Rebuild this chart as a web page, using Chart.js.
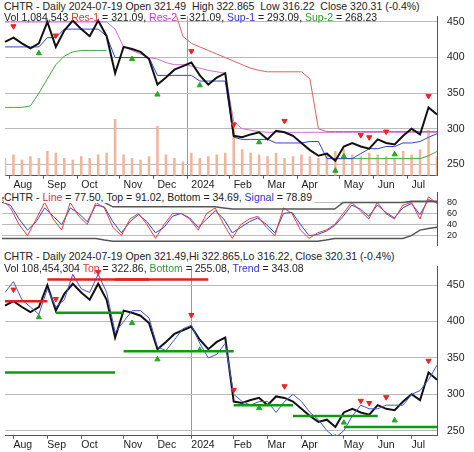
<!DOCTYPE html>
<html><head><meta charset="utf-8">
<script src="https://cdn.jsdelivr.net/npm/chart.js@4"></script>
<style>
body{margin:0;background:#fff;font-family:"Liberation Sans",Arial,sans-serif;}
canvas{position:absolute;left:0}
.h{position:absolute;left:4px;font-size:10.5px;color:#222;background:#fff;white-space:nowrap;line-height:12px;padding-right:2px}
</style></head><body>
<canvas id="c1" width="474" height="192" style="top:0"></canvas>
<canvas id="c2" width="474" height="84" style="top:177px"></canvas>
<canvas id="c3" width="474" height="202" style="top:250px"></canvas>
<div class="h" style="top:0">CHTR - Daily 2024-07-19 Open 321.49&nbsp; High 322.865&nbsp; Low 316.22&nbsp; Close 320.31 (-0.4%)</div>
<div class="h" style="top:11px;background:none">Vol 1,084,543 <span style="color:#d33">Res-1</span> = 321.09, <span style="color:#c3c">Res-2</span> = 321.09, <span style="color:#33c">Sup-1</span> = 293.09, <span style="color:#393">Sup-2</span> = 268.23</div>
<div class="h" style="top:191px">CHTR - <span style="color:#d33">Line</span> = 77.50, Top = 91.02, Bottom = 34.69, <span style="color:#33c">Signal</span> = 78.89</div>
<div class="h" style="top:250px">CHTR - Daily 2024-07-19 Open 321.49,Hi 322.865,Lo 316.22, Close 320.31 (-0.4%)</div>
<div class="h" style="top:262px;background:none">Vol 108,454,304 <span style="color:#d33">Top</span> = 322.86, <span style="color:#393">Bottom</span> = 255.08, <span style="color:#33c">Trend</span> = 343.08</div>
<script>
// weekly dates, Jul 31 2023 .. Jul 19 2024
const dates = [];
for (let i = 0; i < 51; i++) { const d = new Date(Date.UTC(2023, 6, 31 + 7 * i)); dates.push(d.toISOString().slice(0, 10)); }
dates.push('2024-07-19');

const closes = [422,428,420,413,420,450,415,438,452,440,430,452,430,378,415,412,408,398,362,372,383,388,393,375,362,372,378,290,288,292,295,285,297,295,290,280,270,262,265,255,275,280,275,272,285,280,278,290,300,292,330,320];
const volume = [1.0,1.2,0.9,1.1,1.0,1.4,1.3,1.0,0.9,1.1,1.0,1.2,1.3,3.2,1.2,1.0,0.9,1.1,2.8,1.2,1.0,0.8,1.3,1.0,1.1,1.2,1.3,3.0,1.5,1.3,1.2,1.1,1.3,1.0,1.1,1.2,1.1,1.0,1.3,1.4,1.5,1.2,1.1,1.3,1.2,1.1,1.0,1.4,1.2,1.5,2.6,1.1];
const res1 = [450,450,450,450,450,450,450,450,450,450,450,450,450,440,415,410,405,400,398,393,390,390,388,385,382,380,378,310,300,298,296,295,295,295,295,295,295,295,295,295,295,295,295,295,295,295,295,295,295,295,295,295];
const res2 = [468,468,468,468,468,468,468,468,468,468,468,468,468,468,468,468,468,468,468,468,468,430,420,415,410,405,400,395,390,385,382,380,380,380,380,380,370,300,296,296,296,296,296,296,296,296,296,296,296,296,296,296];
const sup1 = [415,415,415,415,415,428,428,440,440,440,440,440,430,400,400,400,400,400,375,375,375,375,375,367,367,367,367,288,285,285,285,285,280,280,280,280,282,282,258,258,258,258,265,272,272,275,275,280,280,282,288,293];
const sup2 = [330,330,330,332,350,370,390,402,408,410,410,410,410,null,null,null,null,null,null,null,null,null,null,null,null,null,null,null,null,null,null,null,null,null,null,null,null,null,null,258,258,258,258,258,258,258,258,258,258,258,262,268];
const trend = [440,455,430,420,410,445,420,430,465,445,440,465,440,385,400,415,415,405,365,360,375,390,395,370,350,355,370,300,290,285,290,290,275,290,300,290,275,265,250,240,250,270,285,280,280,285,285,285,300,305,320,340];
const stLine = [85,70,40,20,50,80,50,30,80,55,40,80,70,35,20,50,60,40,15,40,60,60,50,30,60,70,40,15,40,50,55,35,20,70,60,30,15,25,30,40,60,80,65,50,80,60,50,75,80,50,90,78];
const stSignal = [80,75,50,30,45,70,55,40,70,60,45,75,72,45,25,45,58,45,25,35,55,60,52,35,50,65,50,25,35,45,52,40,25,60,62,40,20,22,28,38,55,75,68,55,75,62,52,70,78,58,85,79];
const stTop = [88,88,88,88,88,86,84,84,84,84,84,84,80,72,72,72,72,72,72,72,72,72,72,72,72,72,70,68,68,68,68,68,68,68,68,68,68,68,68,68,80,80,80,80,80,80,80,80,82,82,82,82];
const stBottom = [15,15,15,15,15,15,15,15,15,15,15,15,12,10,10,10,10,10,10,10,10,10,10,10,10,10,10,10,10,10,10,10,10,10,10,10,10,10,12,15,15,15,15,15,15,15,15,15,20,30,33,35];
const buyIdx = [4,15,18,23,30,39,40,46];
const sellIdx = [1,6,11,22,27,33,42,43,45,50];
const topLines = [[5,17,458],[0,5,428],[13,24,458]];
const botLines = [[6,14,412],[14,27,359],[27,34,285],[34,44,270],[40,51,255],[0,13,330]];

const months = ['Jan','Feb','Mar','Apr','May','Jun','Jul','Aug','Sep','Oct','Nov','Dec'];
function tickLabel(i) {
  if (!dates[i]) return '';
  const m = +dates[i].slice(5, 7), pm = i ? +dates[i - 1].slice(5, 7) : 7;
  if (m === pm) return '';
  return m === 1 ? '2024' : months[m - 1];
}
const grid = { color: '#bbb', borderDash: [1, 3], drawTicks: false };
function xAxis() {
  return { offset: false,
    grid: { color: c => tickLabel(c.index) === '2024' ? '#999' : 'rgba(0,0,0,0)', borderDash: [1, 3], drawTicks: true, tickLength: 3,
      tickColor: c => tickLabel(c.index) ? '#555' : 'rgba(0,0,0,0)' }, border: { color: '#555' },
    ticks: { autoSkip: false, maxRotation: 0, padding: 0, color: '#222', font: { size: 10.5 }, align: 'start',
      callback: (v, i) => tickLabel(i) } };
}
function yAxis(min, max, step, fs) {
  return { position: 'right', min, max, afterFit: s => { s.width = 37; }, grid, border: { color: '#555' },
    afterBuildTicks: s => { const t = []; for (let v = Math.ceil(min / step) * step; v < max; v += step) t.push({ value: v }); s.ticks = t; },
    ticks: { autoSkip: false, color: '#222', font: { size: fs || 10.5 }, padding: 10 } };
}
const line = (data, color, w) => ({ type: 'line', data, borderColor: color, borderWidth: w || 1, pointRadius: 0, tension: 0, spanGaps: false });
const segs = (arr, color) => arr.map(([a, b, v]) => line(dates.map((d, i) => i >= a && i <= b ? v : null), color, 2.5));
const marks = (idx, arr, off, color, rot) => ({ type: 'line', showLine: false, data: dates.map((d, i) => idx.includes(i) ? arr[i] + off : null),
  pointStyle: 'triangle', rotation: rot, pointRadius: 3, backgroundColor: color, borderColor: color });
const base = { responsive: false, animation: false, layout: { padding: { left: 2, top: 3 } },
  plugins: { legend: { display: false }, tooltip: { enabled: false } } };

new Chart(document.getElementById('c1'), {
  type: 'line',
  data: { labels: dates, datasets: [
    marks(buyIdx, closes, -14, '#2a2', 0), marks(sellIdx, closes, 16, '#e22', 180),
    line(closes, '#111', 2), line(res2, '#e06060'), line(res1, '#d070d0'), line(sup1, '#3344cc'), line(sup2, '#44aa44'),
    { type: 'bar', data: volume, yAxisID: 'v', backgroundColor: '#f2b49a', barPercentage: 0.3, categoryPercentage: 1 }
  ] },
  options: { ...base, scales: { x: xAxis(), y: yAxis(234, 458, 50), v: { display: false, min: 0, max: 9 } } }
});
new Chart(document.getElementById('c2'), {
  type: 'line',
  data: { labels: dates, datasets: [line(stTop, '#555', 1.5), line(stBottom, '#555', 1.5), line(stLine, '#e04040'), line(stSignal, '#3344cc')] },
  options: { ...base, layout: { padding: { left: 2, top: 1, bottom: 1 } },
    scales: { x: { display: false }, y: { ...yAxis(2, 98, 20, 9), ticks: { autoSkip: false, color: '#222', font: { size: 9 }, padding: 10 } } } }
});
new Chart(document.getElementById('c3'), {
  type: 'line',
  data: { labels: dates, datasets: [
    ...segs(topLines, '#e02020'), ...segs(botLines, '#119911'),
    marks(buyIdx, closes, -14, '#2a2', 0), marks(sellIdx, closes, 16, '#e22', 180),
    line(trend, '#4455cc'), line(closes, '#111', 2)
  ] },
  options: { ...base, layout: { padding: { left: 2, top: 1 } }, scales: { x: xAxis(), y: yAxis(243, 476, 50) } }
});
</script>
</body></html>
